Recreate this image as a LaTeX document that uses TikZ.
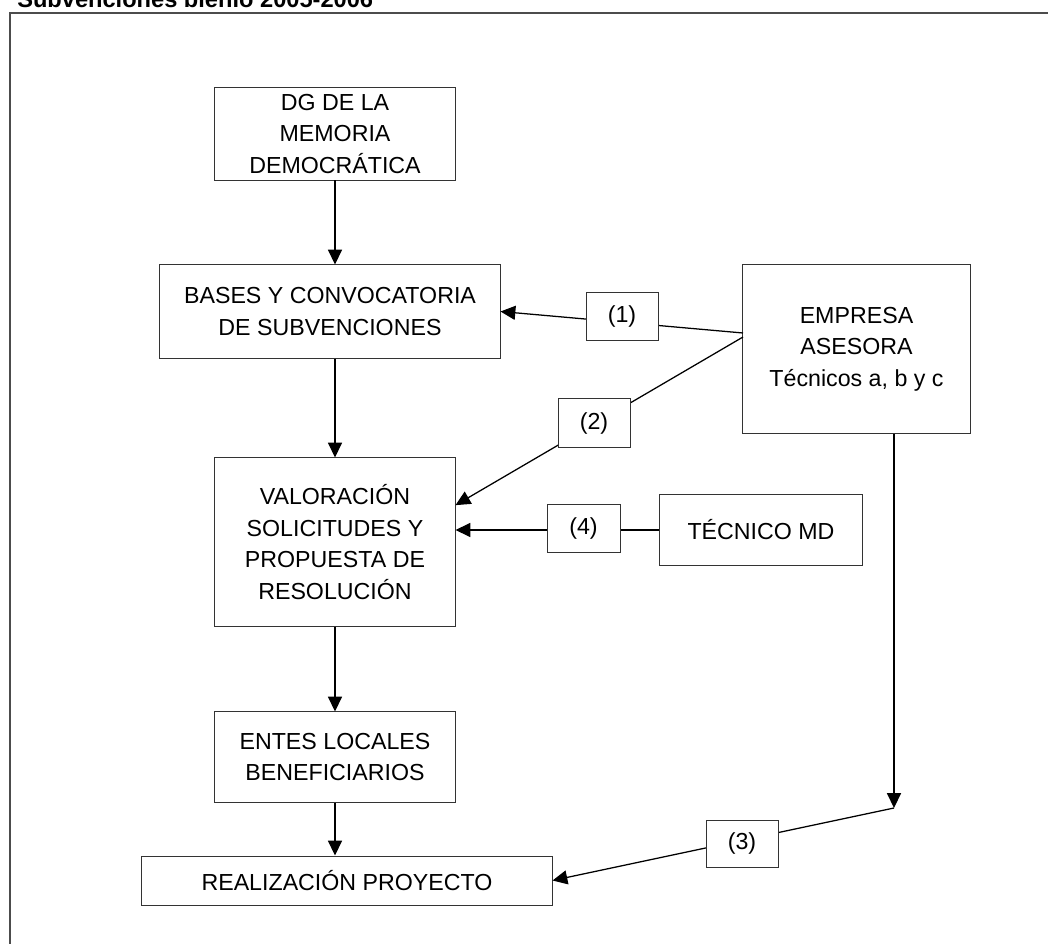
\documentclass[tikz,border=0pt]{standalone}
\usepackage{fontspec}
\setmainfont{Liberation Sans}
\usetikzlibrary{arrows.meta}

\begin{document}
\begin{tikzpicture}[x=0.025cm, y=-0.025cm, >={Triangle[length=3.7mm, width=3.5mm]},
    every node/.style={font=\fontsize{16.5}{22.5}\selectfont, inner sep=0},
    box/.style={draw=black!80, line width=0.7pt, align=center},
    tag/.style={box, fill=white, minimum width=1.8cm, minimum height=1.2cm},
    link/.style={line width=0.9pt}]
      \useasboundingbox (0,0) rectangle (1048,944);
      \clip (0,0) rectangle (1048,944);
      \draw[black!70, line width=1.5pt] (10,13) rectangle (1100,1000);
      \node[anchor=base west, font=\fontsize{16.8}{20}\selectfont\bfseries] (title) at (17,8) {Subvenciones bienio 2005-2006};
      \node[box, minimum width=6cm, minimum height=2.3cm] (dg) at (335,134) {DG DE LA\\MEMORIA\\DEMOCRÁTICA};
      \node[box, minimum width=8.5cm, minimum height=2.325cm] (bases) at (330,311.5) {BASES Y CONVOCATORIA\\DE SUBVENCIONES};
      \node[box, minimum width=5.675cm, minimum height=4.2cm] (emp) at (856.5,349) {EMPRESA\\ASESORA\\Técnicos a, b y c};
      \node[box, minimum width=6cm, minimum height=4.2cm] (val) at (335,542) {VALORACIÓN\\SOLICITUDES Y\\PROPUESTA DE\\RESOLUCIÓN};
      \node[box, minimum width=5.05cm, minimum height=1.75cm] (tmd) at (761,530) {TÉCNICO MD};
      \node[box, minimum width=6cm, minimum height=2.25cm] (entes) at (335,757) {ENTES LOCALES\\BENEFICIARIOS};
      \node[box, minimum width=10.25cm, minimum height=1.225cm] (real) at (347,880.5) {REALIZACIÓN PROYECTO};
      \coordinate (e1) at (743,333);
      \coordinate (e2) at (743,337);
      \coordinate (c3) at (894,808);
      \draw[link, ->] (dg) -- (dg |- bases.north);
      \draw[link, ->] (bases.south -| dg) -- (dg |- val.north);
      \draw[link, ->] (val) -- (val |- entes.north);
      \draw[link, ->] (entes) -- (entes |- real.north);
      \draw[link, ->] (e1) -- (bases.east);
      \draw[link, ->] (e2) -- (val.17);
      \draw[link, ->] (tmd.west) -- (tmd.west -| val.east);
      \draw[link, ->] (emp.south -| c3) -- (c3);
      \draw[link, ->] (c3) -- (real.east);
      \node[tag] (t1) at (622,316.5) {(1)};
      \node[tag] (t2) at (594,423) {(2)};
      \node[tag, minimum width=1.825cm, minimum height=1.175cm] (t4) at (583.5,528.5) {(4)};
      \node[tag, minimum height=1.175cm] (t3) at (742,843.5) {(3)};
\end{tikzpicture}
\end{document}
